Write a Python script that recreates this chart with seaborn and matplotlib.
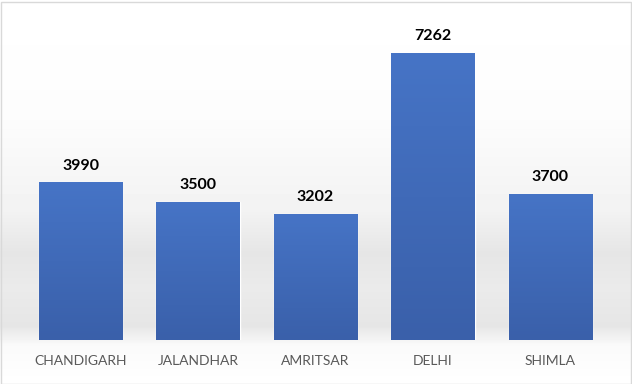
import matplotlib
matplotlib.use("Agg")
import matplotlib.pyplot as plt
import numpy as np
import pandas as pd
import seaborn as sns
from matplotlib.colors import LinearSegmentedColormap
from matplotlib.patches import Rectangle

cities = ["CHANDIGARH", "JALANDHAR", "AMRITSAR", "DELHI", "SHIMLA"]
values = [3990, 3500, 3202, 7262, 3700]

sns.set_theme(style="white")
plt.rcParams["font.family"] = ["Lato", "DejaVu Sans"]

fig = plt.figure(figsize=(6.32, 3.84), dpi=100)

# soft gray shading behind the plot area (row 0 = top of figure)
bg = fig.add_axes([0, 0, 1, 1], zorder=0)
rows = np.linspace(0, 1, 384)
shade = np.interp(rows, [0.0, 0.30, 0.55, 0.66, 0.75, 0.85, 0.90, 1.0],
                  [1.0, 0.99, 0.95, 0.90, 0.92, 0.90, 0.98, 1.0])
bg.imshow(shade[:, None], cmap="gray", vmin=0, vmax=1, aspect="auto",
          extent=[0, 1, 0, 1], origin="upper")
bg.set_xlim(0, 1)
bg.set_ylim(0, 1)
bg.axis("off")

ax = fig.add_axes([22 / 632, 44 / 384, 587 / 632, 316 / 384], zorder=1)
ax.patch.set_alpha(0)

frame = pd.DataFrame({"city": cities, "value": values})
sns.barplot(data=frame, x="city", y="value", color="#4472C4",
            width=0.71, saturation=1, ax=ax)

grad = LinearSegmentedColormap.from_list("bar", ["#3A60AA", "#4674C6"])
for patch in ax.patches:
    x0, y0 = patch.get_x(), patch.get_y()
    w, h = patch.get_width(), patch.get_height()
    img = ax.imshow(np.linspace(0, 1, 100)[:, None], cmap=grad, aspect="auto",
                    extent=[x0, x0 + w, y0, y0 + h], origin="lower", zorder=2)
    img.set_clip_path(patch)
    patch.set_facecolor("none")

for i, v in enumerate(values):
    ax.annotate(f"{v}", (i, v), xytext=(0, 7), textcoords="offset points",
                ha="center", va="bottom", fontsize=11.5, fontweight="bold",
                color="black")

ax.set_xlim(-0.5, len(cities) - 0.5)
ax.set_ylim(0, 8000)
ax.set_xlabel("")
ax.set_ylabel("")
ax.set_yticks([])
ax.tick_params(axis="x", length=0, pad=11, labelsize=10, labelcolor="#595959")
sns.despine(ax=ax, left=True, bottom=True)

fig.patches.append(Rectangle((0.5 / 632, 0.5 / 384), 630 / 632, 382 / 384,
                             transform=fig.transFigure, fill=False,
                             edgecolor="#d9d9d9", linewidth=1, zorder=5))

fig.savefig("out.png", dpi=100)
